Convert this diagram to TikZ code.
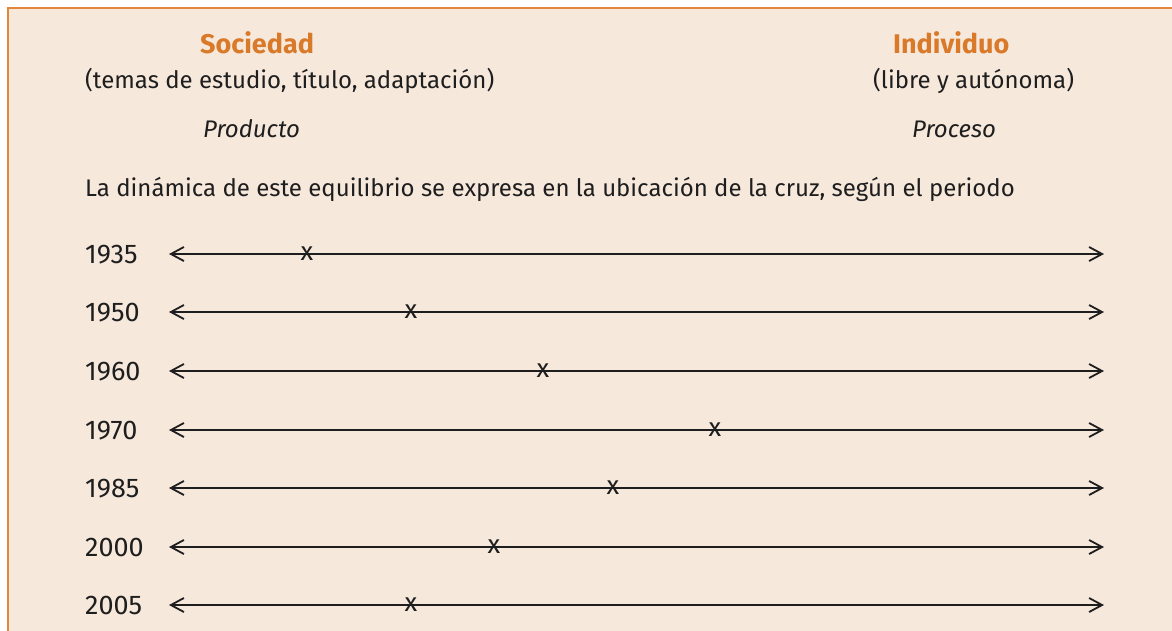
\documentclass[tikz,border=0pt]{standalone}
\usepackage{fontspec}
\setmainfont{Fira Sans}
\usetikzlibrary{arrows.meta}
\definecolor{boxfill}{HTML}{F7E8DC}
\definecolor{boxline}{HTML}{E3883A}
\definecolor{headcol}{HTML}{D97A2B}
\definecolor{inkcol}{HTML}{1E1E1E}
\begin{document}
\begin{tikzpicture}[
x=1pt,y=-1pt,
txt/.style={inner sep=0pt,anchor=base west,text=inkcol,font=\fontsize{24}{28}\selectfont},
head/.style={txt,text=headcol,font=\fontsize{27}{32}\selectfont\bfseries},
itxt/.style={txt,font=\fontsize{24}{28}\selectfont\itshape},
year/.style={txt,font=\fontsize{27}{32}\selectfont},
cross/.style={inner sep=0pt,text=inkcol,font=\fontsize{26}{30}\selectfont},
axis/.style={draw=inkcol,line width=1.8pt,{Straight Barb[length=13pt,width=14pt]}-{Straight Barb[length=13pt,width=14pt]}}
]
\useasboundingbox (0,0) rectangle (1172,630);
% background panel
\fill[boxfill] (8,8) rectangle (1174,632);
\draw[boxline,line width=2pt] (8,632) -- (8,8) -- (1174,8);
% headings
\node[head] (soc) at (200,53) {Sociedad};
\node[txt] (socnote) at (85,88) {(temas de estudio, título, adaptación)};
\node[itxt] (prod) at (203,137) {Producto};
\node[head] (ind) at (893,53) {Individuo};
\node[txt] (indnote) at (873,88) {(libre y autónoma)};
\node[itxt] (proc) at (912,137) {Proceso};
\node[txt] (intro) at (85,196) {La dinámica de este equilibrio se expresa en la ubicación de la cruz, según el periodo};
% one scale per period
\foreach \Year/\Ly/\Pos [count=\i] in {1935/254/307,1950/312/411,1960/371/543,1970/430/715,1985/488/613,2000/547/494,2005/605/411}{
  \node[year] (y\i) at (85,\Ly+9) {\Year};
  \coordinate (l\i) at (169,\Ly);
  \coordinate (r\i) at (1104,\Ly);
  \draw[axis] (l\i) -- (r\i);
  \node[cross] (c\i) at (\Pos,\Ly) {x};
}
\end{tikzpicture}
\end{document}
